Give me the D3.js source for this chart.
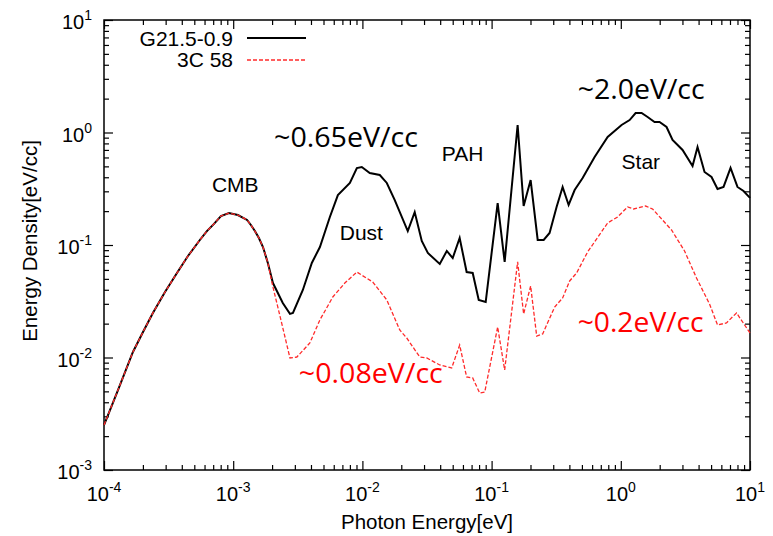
<html>
<head>
<meta charset="utf-8">
<script src="https://d3js.org/d3.v7.min.js"></script>
<style>
body { margin: 0; background: #fff; }
svg text { font-family: "Liberation Sans", Arial, sans-serif; }
</style>
</head>
<body>
<div id="chart"></div>
<script>
// photon energy [eV], energy density [eV/cc]
var g21 = [
	[1e-4,0.00251],[1.283e-4,0.00514],[1.675e-4,0.01119],[2.004e-4,0.01686],[2.39e-4,0.0249],
	[2.965e-4,0.0382],[3.67e-4,0.0564],[4.465e-4,0.0798],[5.52e-4,0.1108],[6.26e-4,0.133],
	[7.1e-4,0.154],[8.04e-4,0.181],[9.27e-4,0.192],[1.087e-3,0.1848],[1.28e-3,0.167],
	[1.371e-3,0.1506],[1.472e-3,0.133],[1.581e-3,0.1154],[1.70e-3,0.096],[1.855e-3,0.0692],
	[2.03e-3,0.0459],[2.42e-3,0.0305],[2.75e-3,0.0244],[2.90e-3,0.0249],[3.46e-3,0.0398],
	[4.06e-3,0.0692],[4.69e-3,0.096],[5.60e-3,0.1775],[6.46e-3,0.278],[8.0e-3,0.356],
	[9.06e-3,0.483],[9.89e-3,0.493],[0.0114,0.436],[0.01363,0.419],[0.01545,0.356],
	[0.0178,0.251],[0.02245,0.133],[0.0254,0.196],[0.0288,0.1086],[0.0321,0.0849],
	[0.0397,0.0678],[0.045,0.0885],[0.050,0.0766],[0.0566,0.1154],[0.0641,0.0575],
	[0.0714,0.0564],[0.0795,0.0325],[0.090,0.0311],[0.1114,0.236],[0.1262,0.0707],
	[0.159,1.166],[0.177,0.222],[0.2005,0.378],[0.2274,0.1108],[0.253,0.1108],
	[0.281,0.128],[0.3184,0.218],[0.3546,0.328],[0.3946,0.227],[0.4393,0.308],
	[0.5065,0.394],[0.627,0.605],[0.791,0.912],[1.014,1.166],[1.17,1.29],
	[1.302,1.49],[1.449,1.49],[1.612,1.374],[1.825,1.24],[1.995,1.24],
	[2.26,1.119],[2.515,0.858],[3.006,0.699],[3.592,0.504],[3.926,0.743],
	[4.447,0.446],[5.037,0.402],[5.607,0.315],[6.24,0.328],[7.07,0.4835],
	[8.0,0.328],[8.91,0.302],[10,0.262]
];

var c58 = [
	[1e-4,0.00251],[1.283e-4,0.00514],[1.675e-4,0.01119],[2.004e-4,0.01686],[2.39e-4,0.0249],
	[2.965e-4,0.0382],[3.67e-4,0.0564],[4.465e-4,0.0798],[5.52e-4,0.1108],[6.26e-4,0.133],
	[7.1e-4,0.154],[8.04e-4,0.181],[9.27e-4,0.192],[1.087e-3,0.1848],[1.28e-3,0.167],
	[1.371e-3,0.1506],[1.472e-3,0.133],[1.581e-3,0.1154],[1.70e-3,0.096],[1.855e-3,0.0692],
	[2.03e-3,0.0424],[2.34e-3,0.0216],[2.75e-3,0.0099],[3.11e-3,0.0101],[3.92e-3,0.01346],
	[4.69e-3,0.0216],[5.90e-3,0.0345],[7.31e-3,0.0459],[9.06e-3,0.0575],[0.01202,0.0469],
	[0.01545,0.0325],[0.01946,0.01756],[0.02205,0.0149],[0.0278,0.0101],[0.0315,0.0099],
	[0.0397,0.00858],[0.0491,0.00807],[0.0566,0.0129],[0.0641,0.00671],[0.0714,0.00658],
	[0.0809,0.00483],[0.0885,0.00493],[0.1114,0.01866],[0.1262,0.00774],[0.159,0.0707],
	[0.177,0.0244],[0.2005,0.0432],[0.2234,0.0155],[0.2485,0.0162],[0.3076,0.0281],
	[0.3546,0.0338],[0.402,0.0479],[0.455,0.0564],[0.5535,0.0867],[0.791,0.157],
	[0.9445,0.1775],[1.129,0.218],[1.256,0.209],[1.555,0.222],[1.762,0.209],
	[2.47,0.136],[3.114,0.0885],[3.855,0.0509],[4.862,0.0299],[5.607,0.01945],
	[6.58,0.0203],[7.865,0.0249],[10,0.0165]
];

var seriesNames = ["G21.5-0.9", "3C 58"];
var xTickExp = [-4, -3, -2, -1, 0, 1];
var yTickExp = [-3, -2, -1, 0, 1];

// text notes on the plot: [text, x energy, y density]
var compLabels = [["CMB", 6.84e-4, 0.296], ["Dust", 6.68e-3, 0.1108], ["PAH", 0.0411, 0.558], ["Star", 1.014, 0.474]];
var blackNotes = [["~0.65eV/cc", 2.07e-3, 0.743, 144], ["~2.0eV/cc", 0.4634, 1.986, 127]];
var redNotes = [["~0.08eV/cc", 3.22e-3, 0.00593, 144], ["~0.2eV/cc", 0.4634, 0.01686, 126]];

var width = 773, height = 536;
var margin = {top: 20, right: 23, bottom: 66, left: 104};

var svg = d3.select("#chart").append("svg")
	.attr("width", width)
	.attr("height", height);

var x = d3.scaleLog().domain([1e-4, 10]).range([margin.left, width - margin.right]);
var y = d3.scaleLog().domain([1e-3, 10]).range([height - margin.bottom, margin.top]);

var xMajor = xTickExp.map(e => Math.pow(10, e));
var yMajor = yTickExp.map(e => Math.pow(10, e));
var isMajor = v => Math.abs(Math.log10(v) - Math.round(Math.log10(v))) < 1e-6;
var xMinor = x.ticks().filter(v => !isMajor(v));
var yMinor = y.ticks().filter(v => !isMajor(v));

function tickAxis(axis, vals, size, tr) {
	var g = svg.append("g").attr("transform", tr)
		.call(axis.tickValues(vals).tickSize(-size).tickSizeOuter(0).tickFormat(""));
	g.select(".domain").remove();
	g.selectAll("line").attr("stroke", "#000").attr("stroke-width", 1.2);
}
var bottomY = height - margin.bottom, rightX = width - margin.right;
tickAxis(d3.axisBottom(x), xMajor, 9, `translate(0,${bottomY})`);
tickAxis(d3.axisBottom(x), xMinor, 5, `translate(0,${bottomY})`);
tickAxis(d3.axisTop(x), xMajor, 9, `translate(0,${margin.top})`);
tickAxis(d3.axisTop(x), xMinor, 5, `translate(0,${margin.top})`);
tickAxis(d3.axisLeft(y), yMajor, 9, `translate(${margin.left},0)`);
tickAxis(d3.axisLeft(y), yMinor, 5, `translate(${margin.left},0)`);
tickAxis(d3.axisRight(y), yMajor, 9, `translate(${rightX},0)`);
tickAxis(d3.axisRight(y), yMinor, 5, `translate(${rightX},0)`);

svg.append("rect")
	.attr("x", margin.left).attr("y", margin.top)
	.attr("width", rightX - margin.left).attr("height", bottomY - margin.top)
	.attr("fill", "none").attr("stroke", "#000").attr("stroke-width", 1.5);

// power-of-ten tick labels
function powLabel(sel, e) {
	sel.append("tspan").text("10");
	sel.append("tspan").attr("dy", -9).attr("font-size", 14).text(e);
}
xTickExp.forEach(function(e) {
	svg.append("text")
		.attr("x", x(Math.pow(10, e)))
		.attr("y", bottomY + 31)
		.attr("text-anchor", "middle")
		.attr("font-size", 20)
		.call(powLabel, e);
});
yTickExp.forEach(function(e) {
	svg.append("text")
		.attr("x", 92)
		.attr("y", y(Math.pow(10, e)) + 9)
		.attr("text-anchor", "end")
		.attr("font-size", 20)
		.call(powLabel, e);
});

svg.append("text")
	.attr("x", (margin.left + rightX) / 2)
	.attr("y", 529)
	.attr("text-anchor", "middle")
	.attr("font-size", 20.5)
	.text("Photon Energy[eV]");

svg.append("text")
	.attr("transform", "translate(37,241) rotate(-90)")
	.attr("text-anchor", "middle")
	.attr("font-size", 20.5)
	.text("Energy Density[eV/cc]");

var line = d3.line()
	.x(d => x(d[0]))
	.y(d => y(d[1]));

svg.append("path")
	.datum(g21)
	.attr("d", line)
	.attr("fill", "none")
	.attr("stroke", "#000")
	.attr("stroke-width", 2)
	.attr("stroke-linejoin", "miter");

svg.append("path")
	.datum(c58)
	.attr("d", line)
	.attr("fill", "none")
	.attr("stroke", "#ff2a2a")
	.attr("stroke-width", 1.3)
	.attr("stroke-dasharray", "4,2");

// legend
var legend = svg.append("g");
legend.append("text").attr("x", 233).attr("y", 46).attr("text-anchor", "end").attr("font-size", 21).text(seriesNames[0]);
legend.append("text").attr("x", 233).attr("y", 67).attr("text-anchor", "end").attr("font-size", 21).text(seriesNames[1]);
legend.append("line").attr("x1", 247).attr("x2", 306).attr("y1", 38).attr("y2", 38)
	.attr("stroke", "#000").attr("stroke-width", 2);
legend.append("line").attr("x1", 247).attr("x2", 306).attr("y1", 60).attr("y2", 60)
	.attr("stroke", "#ff2a2a").attr("stroke-width", 1.3).attr("stroke-dasharray", "4,2");

compLabels.forEach(function(d) {
	svg.append("text")
		.attr("x", x(d[1])).attr("y", y(d[2]))
		.attr("font-size", 21)
		.text(d[0]);
});

function note(d, color) {
	svg.append("text")
		.attr("x", x(d[1])).attr("y", y(d[2]))
		.attr("font-size", 27)
		.attr("textLength", d[3])
		.attr("lengthAdjust", "spacingAndGlyphs")
		.style("font-family", "'Open Sans', sans-serif")
		.attr("fill", color)
		.text(d[0]);
}
blackNotes.forEach(d => note(d, "#000"));
redNotes.forEach(d => note(d, "#ff0000"));
</script>
</body>
</html>
